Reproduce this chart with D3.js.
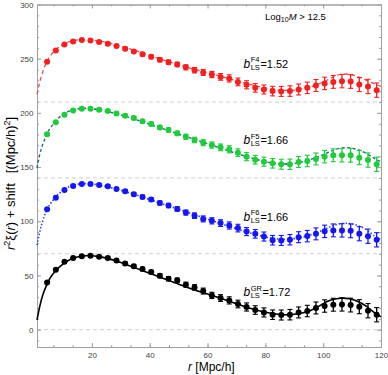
<!DOCTYPE html>
<html>
<head>
<meta charset="utf-8">
<script src="https://cdn.jsdelivr.net/npm/d3@7"></script>
<style>
  body { margin: 0; background: #fff; }
  svg { font-family: "Liberation Sans", Arial, sans-serif; }
</style>
</head>
<body>
<div id="chart-area"></div>
<script>
// bin centres
var rBins = [4.5, 7.5, 10.5, 13.5, 16.5, 19.5, 22.5, 25.5, 28.5, 31.5, 34.5, 37.5, 40.5, 43.5, 46.5, 49.5, 52.5, 55.5, 58.5,
             61.5, 64.5, 67.5, 70.5, 73.5, 76.5, 79.5, 82.5, 85.5, 88.5, 91.5, 94.5, 97.5, 100.5, 103.5, 106.5, 109.5, 112.5, 115.5, 118.5];

// measured r^2 xi (without shift)
var xiF4 = [37.1, 47.6, 53.2, 55.9, 57.3, 56.8, 55.5, 53.7, 51.6, 49.1, 46.7, 44.2, 41.7, 39, 36.8, 34.7, 32, 29.4, 27.3,
            25.4, 23.2, 21.8, 18.6, 15.9, 13.1, 11.6, 10.1, 9.8, 10.1, 11.6, 13.1, 15.3, 17.2, 18.6, 19.3, 19, 16.2, 14.4, 11];
var xiF5 = [40.3, 51.3, 58.3, 62.3, 63.8, 63.8, 62.9, 61.7, 59.5, 57.3, 55.2, 52.2, 49.7, 46.6, 44.2, 41.1, 38, 35, 32.5,
            30.3, 28.2, 26.4, 23.3, 19.6, 16.8, 15, 13.5, 12.6, 12.6, 14.7, 15.6, 17.5, 19.6, 20.9, 20.9, 20.9, 18.7, 16.5, 12.6];
var xiF6 = [41.1, 51.8, 58.9, 62.6, 64.4, 64.4, 63.5, 62.3, 59.8, 57.7, 55, 52.5, 50, 46.9, 44.5, 41.4, 38, 35.2, 32.2,
            30.4, 28.3, 26.1, 23.7, 20.5, 18.4, 15.9, 12.5, 12.3, 13, 15.3, 16.3, 18.4, 20.7, 21.6, 21.6, 21.2, 18.5, 16.2, 12.9];
var xiGR = [43.6, 55.3, 62.6, 66, 67.8, 68.1, 67.2, 66, 63.8, 61.1, 58.6, 55.9, 53.1, 49.7, 47, 45.5, 41.5, 39, 35.6,
            31.6, 29.2, 27, 23.7, 20.9, 18.1, 15.9, 13.8, 13.5, 13.8, 15.9, 17.2, 20, 21.8, 23, 23.3, 22.7, 21.2, 17.5, 13.8];
var xiErr = [0.5, 0.6, 0.6, 0.7, 0.8, 0.9, 1.0, 1.1, 1.2, 1.3, 1.4, 1.5, 1.6, 1.7, 1.8, 1.9, 2.1, 2.3, 2.5,
             2.6, 2.8, 3.0, 3.2, 3.4, 3.6, 3.8, 4.0, 4.2, 4.4, 4.6, 4.8, 5.0, 5.2, 5.4, 5.6, 5.8, 5.9, 6.0, 6.0];

// linear model curves
var rModel = [1, 2, 3, 4, 5, 6, 8, 10, 12, 14, 16, 18, 20, 22, 25, 30, 35, 40, 45, 50, 55, 60, 65, 70, 75, 80, 85, 88, 90,
              95, 100, 103, 106, 109, 112, 115, 118, 120];
var modF4 = [7, 19, 28, 35, 40, 44, 49.5, 53, 55.5, 57, 57.6, 57.6, 57.2, 56.5, 55, 51.5, 47.5, 43, 38.5, 34.5, 30.5, 27, 23.5,
             19.5, 16, 13, 11, 10.7, 11, 13.5, 18.5, 22.5, 25.5, 25.5, 23.5, 20, 16.5, 14.5];
var modF5 = [9, 22, 31, 38, 43.5, 47.5, 54, 58.5, 61.5, 63.3, 64, 64.2, 63.8, 63.2, 61.5, 58, 54, 49.5, 45, 40.5, 36, 31.5, 27,
             22.5, 18.5, 15, 13, 12.8, 13.3, 16.5, 21.5, 25, 27.5, 27.8, 26, 22.5, 17.5, 15];
var modF6 = [8, 21, 30.5, 38, 43.5, 47.5, 54, 58.5, 61.8, 63.6, 64.5, 64.7, 64.3, 63.6, 62, 58.5, 54.5, 50, 45.5, 41, 36.5, 32,
             27.5, 23, 19, 15.5, 13.5, 13.3, 14, 17, 22, 25.5, 27.8, 28, 26, 22, 16, 13];
var modGR = [9, 22, 32, 39, 45, 49.5, 56, 60.5, 64, 66.3, 67.6, 68.2, 68.2, 67.6, 66, 62, 57, 52, 47, 42, 37, 33, 28.5,
             24, 19.5, 16, 14, 13.8, 14.2, 17, 24, 27.5, 29, 28.5, 26, 21.5, 15, 12];

var shifts = [210, 140, 70, 0];
var supLabels = ["F4", "F5", "F6", "GR"];
var biasValues = ["1.52", "1.66", "1.66", "1.72"];

var yTicks = [0, 50, 100, 150, 200, 250, 300];
var xTicks = [20, 40, 60, 80, 100, 120];

var series = [
  { pts: xiF4, mod: modF4, color: "#f41f1f", line: "#e2504f", dash: "4,3", lw: 1.3 },
  { pts: xiF5, mod: modF5, color: "#1ecb3a", line: "#1d6e6f", dash: "3,2.5", lw: 1.4 },
  { pts: xiF6, mod: modF6, color: "#1515f5", line: "#2a3ee8", dash: "1.4,2", lw: 1.6 },
  { pts: xiGR, mod: modGR, color: "#000000", line: "#000000", dash: null, lw: 1.6 }
];

var W = 388, H = 375;
var margin = { left: 37, right: 7, top: 4.5, bottom: 28 };

var svg = d3.select("#chart-area")
    .append("svg")
    .attr("width", W)
    .attr("height", H);

var x = d3.scaleLinear().domain([1, 120]).range([margin.left, W - margin.right]);
var y = d3.scaleLinear().domain([-16, 300]).range([H - margin.bottom, margin.top]);

var frameColor = "#a0a0a0";

// shift reference lines
svg.selectAll(".shiftline")
    .data(shifts)
    .enter()
    .append("line")
        .attr("x1", x(1)).attr("x2", x(120))
        .attr("y1", d => y(d)).attr("y2", d => y(d))
        .attr("stroke", "#cfcfcf")
        .attr("stroke-width", 1)
        .attr("stroke-dasharray", "4,3");

// axes (ticks inward, mirrored)
var xMinor = d3.range(1, 18).map(i => i * 20 / 3).filter(v => v > 1 && v < 120);
var yMinor = d3.range(-10, 300, 10);

svg.append("g")
    .attr("transform", "translate(0," + y(-16) + ")")
    .call(d3.axisBottom(x).tickValues(xTicks).tickSizeInner(-4).tickSizeOuter(0).tickFormat(d3.format("d")))
    .call(g => g.selectAll("text").attr("dy", "1.05em"));
svg.append("g")
    .attr("transform", "translate(0," + y(-16) + ")")
    .call(d3.axisBottom(x).tickValues(xMinor).tickSizeInner(-2).tickSizeOuter(0).tickFormat(""));
svg.append("g")
    .attr("transform", "translate(0," + y(300) + ")")
    .call(d3.axisTop(x).tickValues(xTicks).tickSizeInner(-4).tickSizeOuter(0).tickFormat(""));
svg.append("g")
    .attr("transform", "translate(0," + y(300) + ")")
    .call(d3.axisTop(x).tickValues(xMinor).tickSizeInner(-2).tickSizeOuter(0).tickFormat(""));

svg.append("g")
    .attr("transform", "translate(" + x(1) + ",0)")
    .call(d3.axisLeft(y).tickValues(yTicks).tickSizeInner(-4).tickSizeOuter(0).tickFormat(d3.format("d")))
    .call(g => g.selectAll("text").attr("x", -3.5));
svg.append("g")
    .attr("transform", "translate(" + x(1) + ",0)")
    .call(d3.axisLeft(y).tickValues(yMinor).tickSizeInner(-2).tickSizeOuter(0).tickFormat(""));
svg.append("g")
    .attr("transform", "translate(" + x(120) + ",0)")
    .call(d3.axisRight(y).tickValues(yTicks).tickSizeInner(-4).tickSizeOuter(0).tickFormat(""));
svg.append("g")
    .attr("transform", "translate(" + x(120) + ",0)")
    .call(d3.axisRight(y).tickValues(yMinor).tickSizeInner(-2).tickSizeOuter(0).tickFormat(""));

svg.selectAll(".domain").attr("stroke", frameColor);
svg.selectAll(".tick line").attr("stroke", frameColor);
svg.selectAll(".tick text")
    .attr("fill", "#444")
    .style("font-size", "8px")
    .style("font-family", "'Liberation Sans', Arial, sans-serif");

// model curves
var line = d3.line().curve(d3.curveNatural);

series.forEach(function(s, k) {
    var pts = rModel.map((r, i) => [x(r), y(s.mod[i] + shifts[k])]);
    var path = svg.append("path")
        .attr("d", line(pts))
        .attr("fill", "none")
        .attr("stroke", s.line)
        .attr("stroke-width", s.lw);
    if (s.dash) path.attr("stroke-dasharray", s.dash);
});

// measurements with error bars
series.forEach(function(s, k) {
    var g = svg.append("g").attr("fill", s.color).attr("stroke", s.color);
    var d = rBins.map((r, i) => ({ r: r, v: s.pts[i] + shifts[k], e: xiErr[i] * 1.1 }));

    g.selectAll(".bar").data(d).enter().append("line")
        .attr("x1", p => x(p.r)).attr("x2", p => x(p.r))
        .attr("y1", p => y(p.v - p.e)).attr("y2", p => y(p.v + p.e))
        .attr("stroke-width", 1.3);
    g.selectAll(".capt").data(d).enter().append("line")
        .attr("x1", p => x(p.r) - 2.5).attr("x2", p => x(p.r) + 2.5)
        .attr("y1", p => y(p.v + p.e)).attr("y2", p => y(p.v + p.e))
        .attr("stroke-width", 1.1);
    g.selectAll(".capb").data(d).enter().append("line")
        .attr("x1", p => x(p.r) - 2.5).attr("x2", p => x(p.r) + 2.5)
        .attr("y1", p => y(p.v - p.e)).attr("y2", p => y(p.v - p.e))
        .attr("stroke-width", 1.1);
    g.selectAll("circle").data(d).enter().append("circle")
        .attr("cx", p => x(p.r))
        .attr("cy", p => y(p.v))
        .attr("r", 3)
        .attr("stroke", "none");
});

// bias labels
var labelY = [67.5, 144, 220.5, 296];
supLabels.forEach(function(lab, k) {
    var bx = 243.5, by = labelY[k];
    var b = svg.append("text").attr("x", bx).attr("y", by)
        .style("font-size", "12px").style("font-style", "italic").text("b");
    var bw = b.node().getComputedTextLength();
    var sup = svg.append("text").attr("x", bx + bw + 0.5).attr("y", by - 5.5)
        .style("font-size", "7.5px").text(lab);
    var sub = svg.append("text").attr("x", bx + bw + 0.5).attr("y", by + 2)
        .style("font-size", "7.5px").text("LS");
    var ww = Math.max(sup.node().getComputedTextLength(), sub.node().getComputedTextLength());
    svg.append("text").attr("x", bx + bw + ww + 1).attr("y", by)
        .style("font-size", "11px").text("=" + biasValues[k]);
});

// mass cut
var mt = svg.append("text").attr("x", 265).attr("y", 19.5).style("font-size", "9.5px");
mt.append("tspan").text("Log");
mt.append("tspan").attr("dy", 2.5).style("font-size", "7px").text("10");
mt.append("tspan").attr("dy", -2.5).style("font-style", "italic").text("M");
mt.append("tspan").text(" > 12.5");

// axis titles
var xt = svg.append("text").attr("x", 188).attr("y", 371).style("font-size", "12px");
xt.append("tspan").style("font-style", "italic").text("r");
xt.append("tspan").text(" [Mpc/h]");

var yt = svg.append("text")
    .attr("transform", "translate(14.5,0) rotate(-90)")
    .attr("x", -250).attr("y", 0)
    .style("font-size", "13px");
yt.append("tspan").style("font-style", "italic").text("r");
yt.append("tspan").attr("dy", -5).style("font-size", "9px").text("2");
yt.append("tspan").attr("dy", 5).text("\u03be(");
yt.append("tspan").style("font-style", "italic").text("r");
yt.append("tspan").text(") + shift");
yt.append("tspan").attr("dx", 10).text("[(Mpc/h)");
yt.append("tspan").attr("dy", -5).style("font-size", "9px").text("2");
yt.append("tspan").attr("dy", 5).text("]");
</script>
</body>
</html>
